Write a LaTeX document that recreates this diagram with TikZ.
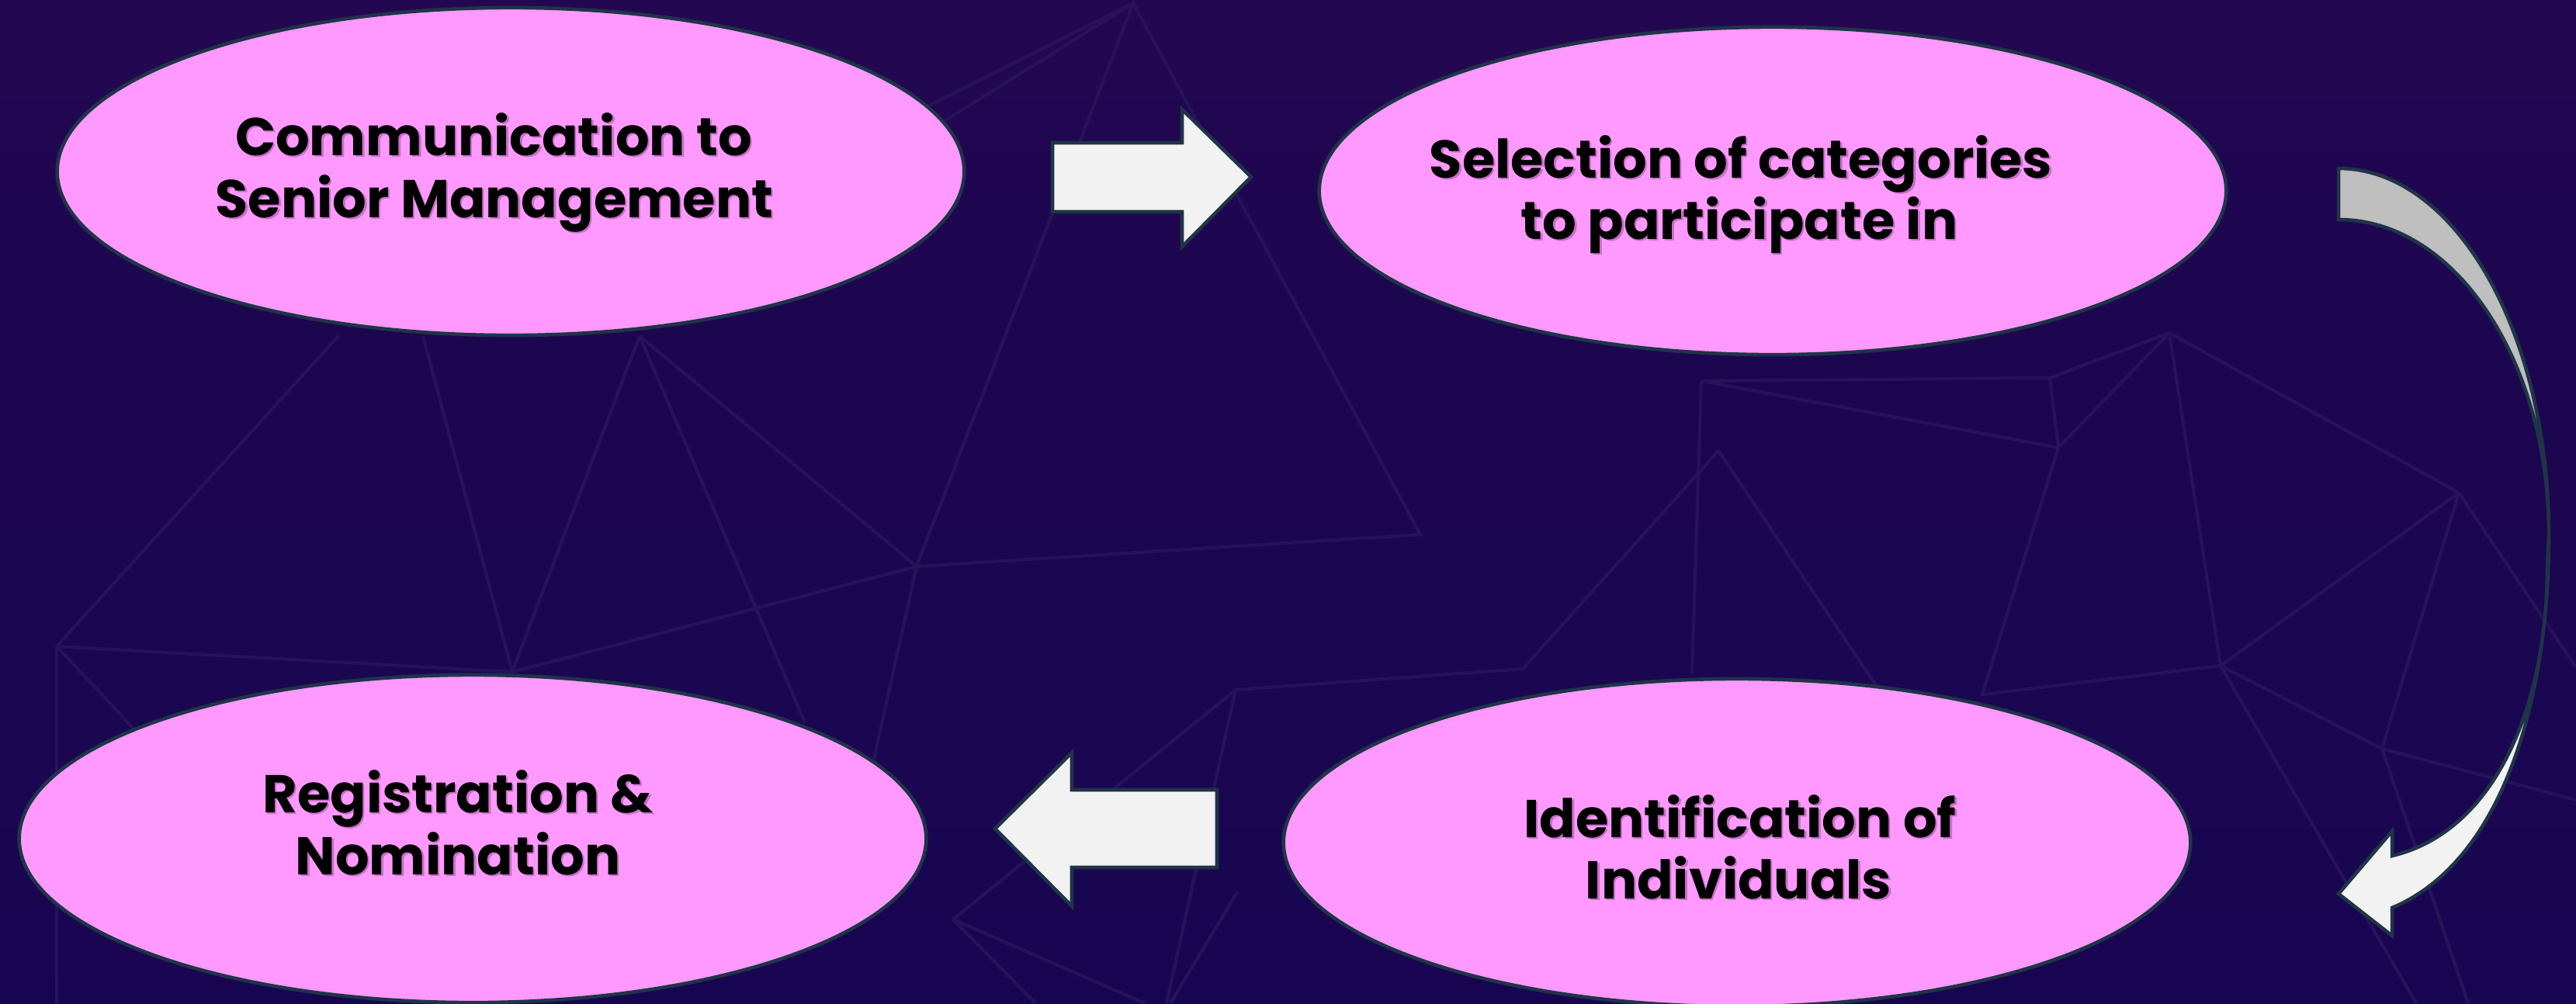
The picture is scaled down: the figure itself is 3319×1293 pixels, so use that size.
\documentclass[tikz,border=0pt]{standalone}
\usepackage{fontspec}
\newfontfamily\labelfont{Poppins}
\usetikzlibrary{shapes.geometric}

\definecolor{bgtop}{RGB}{48,8,84}
\definecolor{bgmid}{RGB}{29,6,80}
\definecolor{bgbot}{RGB}{21,5,82}
\definecolor{mesh}{RGB}{40,18,90}
\definecolor{stepfill}{RGB}{255,153,255}
\definecolor{edge}{RGB}{31,52,72}
\definecolor{arrowfill}{RGB}{242,242,242}
\definecolor{arrowback}{RGB}{191,191,191}
\definecolor{textshade}{RGB}{150,80,150}

\pgfdeclareverticalshading{backdrop}{100bp}{color(0bp)=(bgbot); color(60bp)=(bgmid); color(100bp)=(bgtop)}

% one line of a step label, with its soft drop shadow
\newcommand\stepline[4]{%
  \node[steptext, text=textshade, opacity=0.55, xshift=0.7pt, yshift=-0.7pt] (#1s) at (#2,#3) {#4};
  \node[steptext] (#1) at (#2,#3) {#4};}

\begin{document}
\begin{tikzpicture}[x=0.01cm, y=-0.01cm,
  stepbox/.style={ellipse, draw=edge, line width=1.3pt, fill=stepfill,
    minimum width=11.68cm, minimum height=4.22cm, inner sep=0pt},
  blockarrow/.style={draw=edge, line width=1.3pt, fill=arrowfill, line join=miter},
  meshline/.style={draw=mesh, line width=1.2pt},
  steptext/.style={font=\labelfont\bfseries\fontsize{19.5}{22}\selectfont,
    anchor=base, inner sep=0pt, text=black}]

\useasboundingbox (0,0) rectangle (3319,1293);
\shade[shading=backdrop] (0,0) rectangle (3319,1293);

% faint mesh in the backdrop
\coordinate (A) at (1460,4);
\coordinate (B) at (1181,730);
\coordinate (C) at (1830,689);
\coordinate (D) at (660,866);
\coordinate (E) at (73,833);
\coordinate (F) at (824,433);
\coordinate (G) at (545,433);
\coordinate (H) at (436,433);
\coordinate (V) at (1037,931);
\coordinate (I) at (1592,889);
\coordinate (J) at (1962,862);
\coordinate (K) at (2214,581);
\coordinate (L) at (2192,491);
\coordinate (M) at (2641,487);
\coordinate (N) at (2652,577);
\coordinate (O) at (2795,429);
\coordinate (P) at (3168,635);
\coordinate (Q) at (2861,858);
\coordinate (R) at (3069,965);
\coordinate (W) at (2554,895);
\coordinate (S) at (1228,1185);

\draw[meshline] (A) -- (B) -- (C) -- cycle;
\draw[meshline] (A) -- (1000,235);
\draw[meshline] (A) -- (1050,260);
\draw[meshline] (F) -- (B);
\draw[meshline] (F) -- (D);
\draw[meshline] (G) -- (D);
\draw[meshline] (H) -- (E);
\draw[meshline] (E) -- (D);
\draw[meshline] (B) -- (D);
\draw[meshline] (F) -- (V);
\draw[meshline] (E) -- (73,1293);
\draw[meshline] (E) -- (220,990);
\draw[meshline] (B) -- (1110,1050);
\draw[meshline] (I) -- (1503,1293);
\draw[meshline] (I) -- (S);
\draw[meshline] (S) -- (1334,1293);
\draw[meshline] (S) -- (1475,1293);
\draw[meshline] (1594,1150) -- (1508,1293);
\draw[meshline] (I) -- (J);
\draw[meshline] (J) -- (K);
\draw[meshline] (K) -- (2433,907);
\draw[meshline] (L) -- (2180,868);
\draw[meshline] (L) -- (M) -- (O);
\draw[meshline] (L) -- (N);
\draw[meshline] (M) -- (N) -- (O);
\draw[meshline] (O) -- (P);
\draw[meshline] (O) -- (Q);
\draw[meshline] (N) -- (W) -- (Q);
\draw[meshline] (P) -- (Q) -- (R) -- (P);
\draw[meshline] (P) -- (3319,860);
\draw[meshline] (R) -- (3319,1031);
\draw[meshline] (Q) -- (3113,1293);
\draw[meshline] (R) -- (3180,1293);

% the four steps
\node[stepbox] (comm) at (658,221) {};
\node[stepbox] (sel)  at (2284,246) {};
\node[stepbox] (reg)  at (609,1081) {};
\node[stepbox] (ident) at (2238,1086) {};

\stepline{comma}{636}{200}{Communication to}
\stepline{commb}{637}{280}{Senior Management}
\stepline{sela}{2243}{229}{Selection of categories}
\stepline{selb}{2241}{308}{to participate in}
\stepline{rega}{590}{1047}{Registration \&}
\stepline{regb}{590}{1127}{Nomination}
\stepline{identa}{2242}{1079}{Identification of}
\stepline{identb}{2240}{1158}{Individuals}

% block arrows between the steps
\draw[blockarrow] (1356,184) -- (1523,184) -- (1523,141) -- (1612,228)
  -- (1523,318) -- (1523,273) -- (1356,273) -- cycle;
\draw[blockarrow] (1568,1018) -- (1381,1018) -- (1381,970) -- (1282,1068)
  -- (1381,1168) -- (1381,1118) -- (1568,1118) -- cycle;

% curved arrow on the right: shaded back face, then the front face with its head
\draw[blockarrow, fill=arrowback] (3013,217) .. controls (3163,217) and (3284,429) .. (3284,690)
  .. controls (3284,465) and (3163,283) .. (3013,283) -- cycle;
\draw[blockarrow] (3284,690) .. controls (3284,900) and (3225,1110) .. (3082,1170)
  -- (3082,1206) -- (3013,1152) -- (3082,1071) -- (3082,1103)
  .. controls (3220,1070) and (3282,900) .. (3282,730) -- cycle;
\end{tikzpicture}
\end{document}
